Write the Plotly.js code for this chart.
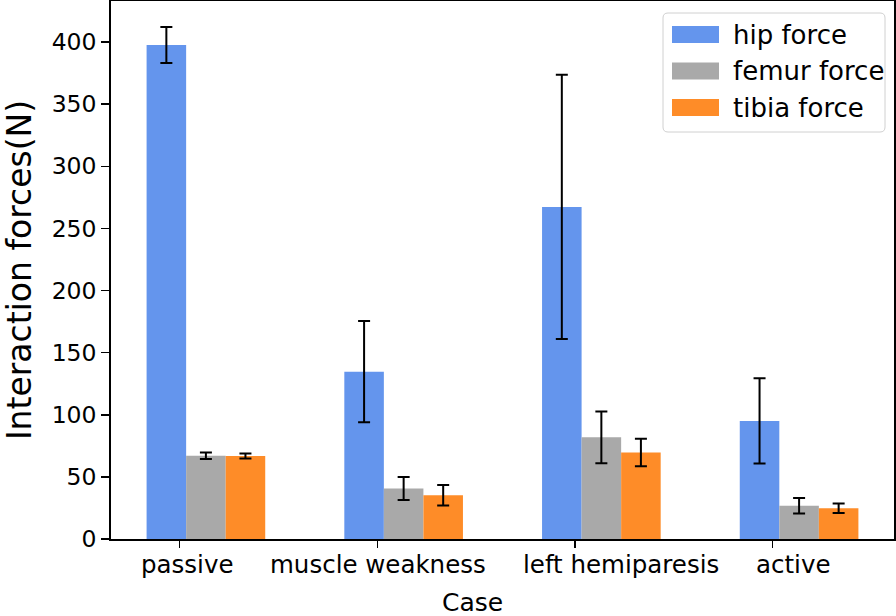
<!DOCTYPE html>
<html><head><meta charset="utf-8">
<script src="https://cdn.plot.ly/plotly-3.0.1.min.js"></script>
<style>html,body{margin:0;padding:0;background:#fff}#chart{width:896px;height:616px}</style>
</head><body><div id="chart"></div>
<script>
// ---- data ----
const cases = ['passive', 'muscle weakness', 'left hemiparesis', 'active'];
const seriesNames = ['hip force', 'femur force', 'tibia force'];
const hipForce = [397.5, 134.7, 267.3, 95.0];
const hipErr = [14.5, 40.7, 106.3, 34.3];
const femurForce = [67.0, 40.6, 81.8, 26.8];
const femurErr = [2.7, 9.3, 20.9, 6.2];
const tibiaForce = [66.8, 35.2, 69.6, 24.7];
const tibiaErr = [2.0, 8.2, 11.0, 3.8];
const yTickVals = [0, 50, 100, 150, 200, 250, 300, 350, 400];
const xTitle = 'Case';
const yTitle = 'Interaction forces(N)';

// ---- style / layout ----
const colors = ['#6495ED', '#A9A9A9', '#FE8C28'];
const BAR_W = 0.2;
const FONT = 'DejaVu Sans, Verdana, sans-serif';
const W = 896, H = 616;
const M = {l: 111, r: 2, t: 1, b: 77};
const PW = W - M.l - M.r, PH = H - M.t - M.b;
const px2x = px => (px - M.l) / PW;          // pixel -> paper x
const py2y = py => (M.t + PH - py) / PH;     // pixel -> paper y
const labelNudge = [7, 1, 46, 20];          // tick-label horizontal nudges (px)

const values = [hipForce, femurForce, tibiaForce];
const errors = [hipErr, femurErr, tibiaErr];

const traces = values.map((vals, k) => ({
  type: 'bar',
  name: seriesNames[k],
  x: cases.map((_, i) => i + k * BAR_W),
  y: vals,
  width: BAR_W,
  marker: {color: colors[k], line: {width: 0}},
  error_y: {type: 'data', array: errors[k], visible: true, color: '#000', thickness: 2, width: 6},
  showlegend: false,
  hoverinfo: 'x+y'
}));

const tickPos = cases.map((_, i) => i + BAR_W / 3);

const annotations = cases.map((c, i) => ({
  text: c, xref: 'x', yref: 'paper', x: tickPos[i], y: 0,
  xanchor: 'center', yanchor: 'middle', xshift: labelNudge[i], yshift: -25.8,
  showarrow: false, font: {family: FONT, size: 24.5, color: '#000'}
}));
annotations.push({
  text: xTitle, xref: 'paper', yref: 'paper', x: px2x(472), y: 0,
  xanchor: 'center', yanchor: 'middle', yshift: -63.5,
  showarrow: false, font: {family: FONT, size: 25, color: '#000'}
});

// manual legend (wide swatches like the reference)
const shapes = [];
const lg = {x0: 663, x1: 885, y0: 13, y1: 132, r: 5};
(function () {
  const {x0, x1, y0, y1, r} = lg;
  const X = px2x, Y = py2y;
  const path = `M${X(x0 + r)},${Y(y0)} L${X(x1 - r)},${Y(y0)} Q${X(x1)},${Y(y0)} ${X(x1)},${Y(y0 + r)} ` +
    `L${X(x1)},${Y(y1 - r)} Q${X(x1)},${Y(y1)} ${X(x1 - r)},${Y(y1)} L${X(x0 + r)},${Y(y1)} ` +
    `Q${X(x0)},${Y(y1)} ${X(x0)},${Y(y1 - r)} L${X(x0)},${Y(y0 + r)} Q${X(x0)},${Y(y0)} ${X(x0 + r)},${Y(y0)} Z`;
  shapes.push({type: 'path', xref: 'paper', yref: 'paper', path: path,
    fillcolor: 'rgba(255,255,255,0.8)', line: {color: '#d0d0d0', width: 1}});
})();
const rowCenters = [34.5, 71, 107.5];
seriesNames.forEach((n, k) => {
  const cy = rowCenters[k];
  shapes.push({type: 'rect', xref: 'paper', yref: 'paper',
    x0: px2x(672), x1: px2x(719), y0: py2y(cy + 8.5), y1: py2y(cy - 8.5),
    fillcolor: colors[k], line: {width: 0}});
  annotations.push({text: n, xref: 'paper', yref: 'paper', x: px2x(731), y: py2y(cy),
    xanchor: 'left', yanchor: 'middle', showarrow: false,
    font: {family: FONT, size: 26, color: '#000'}});
});

const layout = {
  width: W, height: H,
  margin: M,
  paper_bgcolor: '#fff', plot_bgcolor: '#fff',
  font: {family: FONT, color: '#000'},
  barmode: 'overlay',
  showlegend: false,
  xaxis: {
    range: [-0.28, 3.68], tickvals: tickPos, ticktext: cases.map(() => ''),
    showticklabels: false, ticks: 'outside', ticklen: 7, tickwidth: 1.5, tickcolor: '#000',
    showline: true, linecolor: '#000', linewidth: 1.8, mirror: true,
    showgrid: false, zeroline: false, fixedrange: true
  },
  yaxis: {
    range: [0, 433], tickvals: yTickVals, ticktext: yTickVals.map(String),
    ticks: 'outside', ticklen: 8, tickwidth: 1.5, tickcolor: '#000',
    tickfont: {family: FONT, size: 23.5, color: '#000'},
    showline: true, linecolor: '#000', linewidth: 1.8, mirror: true,
    showgrid: false, zeroline: false, fixedrange: true,
    title: {text: yTitle, font: {family: FONT, size: 33, color: '#000'}, standoff: 10}
  },
  annotations: annotations,
  shapes: shapes
};

Plotly.newPlot('chart', traces, layout, {displayModeBar: false, staticPlot: true});
</script>
</body></html>
